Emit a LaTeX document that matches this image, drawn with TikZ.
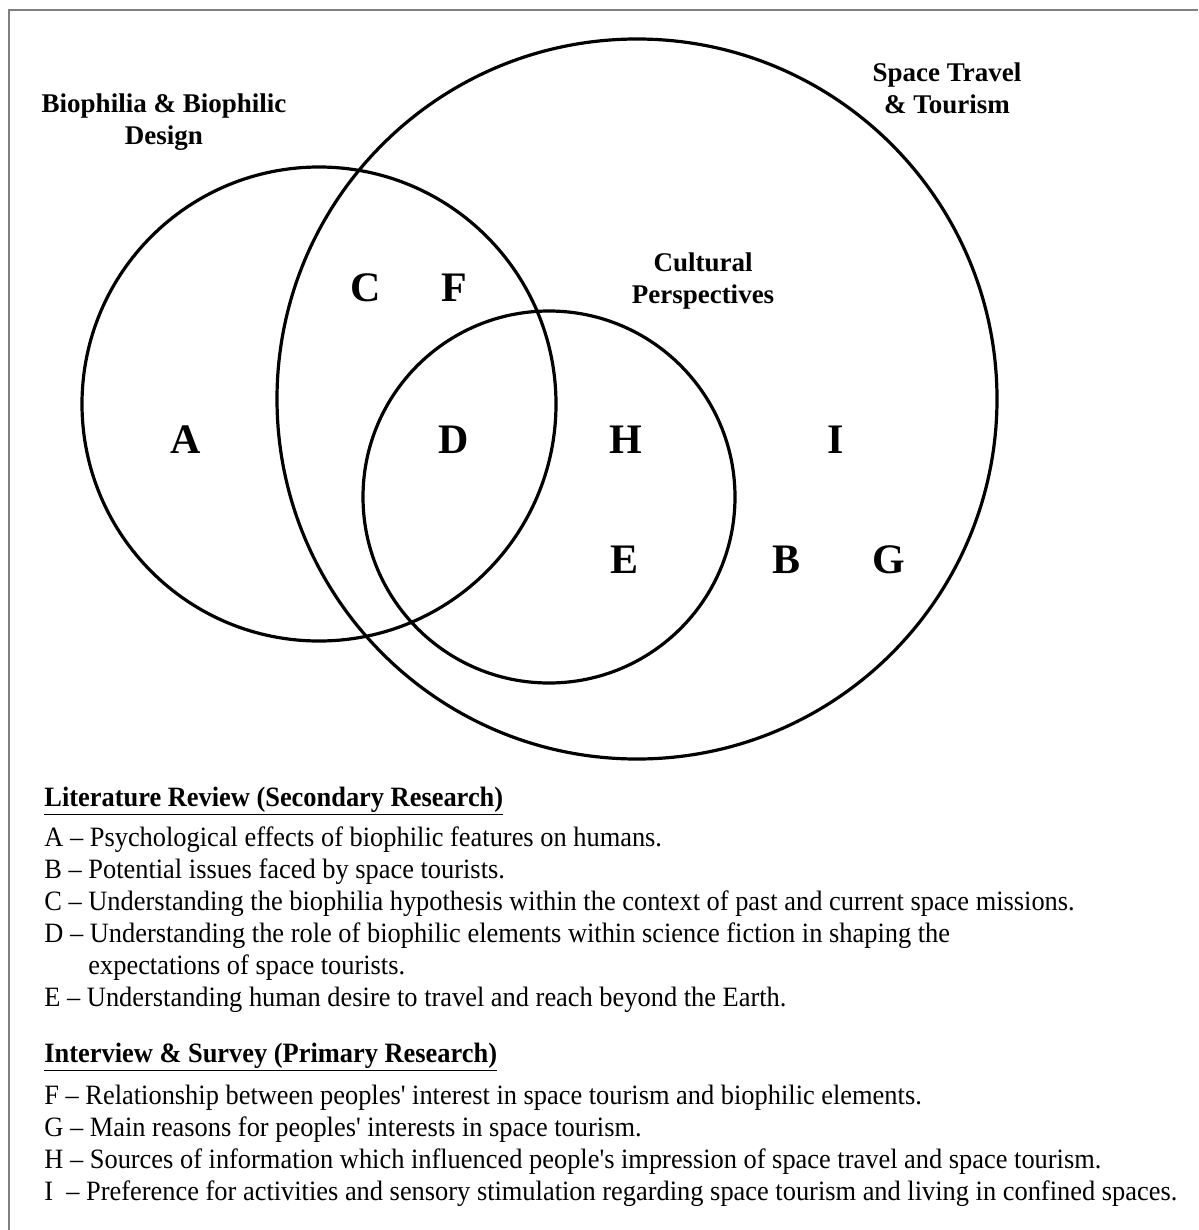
\documentclass[tikz,border=0pt]{standalone}
\usepackage{fontspec}
\setmainfont{Liberation Serif}

\newcommand{\narrow}[1]{\scalebox{0.943}[1]{#1}}

\tikzset{
  setline/.style={line width=1.6pt},
  region/.style={font=\fontsize{21}{25}\selectfont\bfseries, inner sep=0pt},
  setlabel/.style={font=\fontsize{13.5}{16}\selectfont\bfseries, align=center, inner sep=0pt},
  item/.style={anchor=base west, inner sep=0pt, font=\fontsize{14}{16}\selectfont},
  heading/.style={anchor=base west, inner sep=0pt, font=\fontsize{14}{16}\selectfont\bfseries},
}

\begin{document}
\begin{tikzpicture}[x=0.5pt,y=-0.5pt]
    \useasboundingbox (0,0) rectangle (1198,1230);
    % Moldura
    \draw[gray, line width=1pt] (9,1230) -- (9,10) -- (1198,10);
    % Conjuntos
    \draw[setline] (319,404) circle (237);
    \draw[setline] (637,399) circle (360);
    \draw[setline] (549,497) circle (186);
    % Nomes dos conjuntos
    \node[setlabel] (bio) at (164,122) {Biophilia \& Biophilic\\Design};
    \node[setlabel] (space) at (947,88) {Space Travel\\\& Tourism};
    \node[setlabel] (cult) at (703,281) {Cultural\\Perspectives};
    % Regioes
    \node[region] (C) at (366,288) {C};
    \node[region] (F) at (454,288) {F};
    \node[region] (A) at (186,440) {A};
    \node[region] (D) at (454,440) {D};
    \node[region] (H) at (626,440) {H};
    \node[region] (I) at (836,440) {I};
    \node[region] (E) at (624,560) {E};
    \node[region] (B) at (786,560) {B};
    \node[region] (G) at (889,560) {G};
    % Revisao da literatura
    \node[heading] (lit) at (44,806) {\narrow{\underline{Literature Review (Secondary Research)}}};
    \node[item] (itA) at (44,846) {\narrow{A -- Psychological effects of biophilic features on humans.}};
    \node[item] (itB) at (44,878) {\narrow{B -- Potential issues faced by space tourists.}};
    \node[item] (itC) at (44,910) {\narrow{C -- Understanding the biophilia hypothesis within the context of past and current space missions.}};
    \node[item] (itD) at (44,942) {\narrow{D -- Understanding the role of biophilic elements within science fiction in shaping the}};
    \node[item] (itD2) at (88,974) {\narrow{expectations of space tourists.}};
    \node[item] (itE) at (44,1006) {\narrow{E -- Understanding human desire to travel and reach beyond the Earth.}};
    % Entrevista e inquerito
    \node[heading] (prim) at (44,1062) {\narrow{\underline{Interview \& Survey (Primary Research)}}};
    \node[item] (itF) at (44,1104) {\narrow{F -- Relationship between peoples\textquotesingle{} interest in space tourism and biophilic elements.}};
    \node[item] (itG) at (44,1136) {\narrow{G -- Main reasons for peoples\textquotesingle{} interests in space tourism.}};
    \node[item] (itH) at (44,1168) {\narrow{H -- Sources of information which influenced people\textquotesingle s impression of space travel and space tourism.}};
    \node[item] (itI) at (44,1200) {\narrow{I \ -- Preference for activities and sensory stimulation regarding space tourism and living in confined spaces.}};
\end{tikzpicture}
\end{document}
